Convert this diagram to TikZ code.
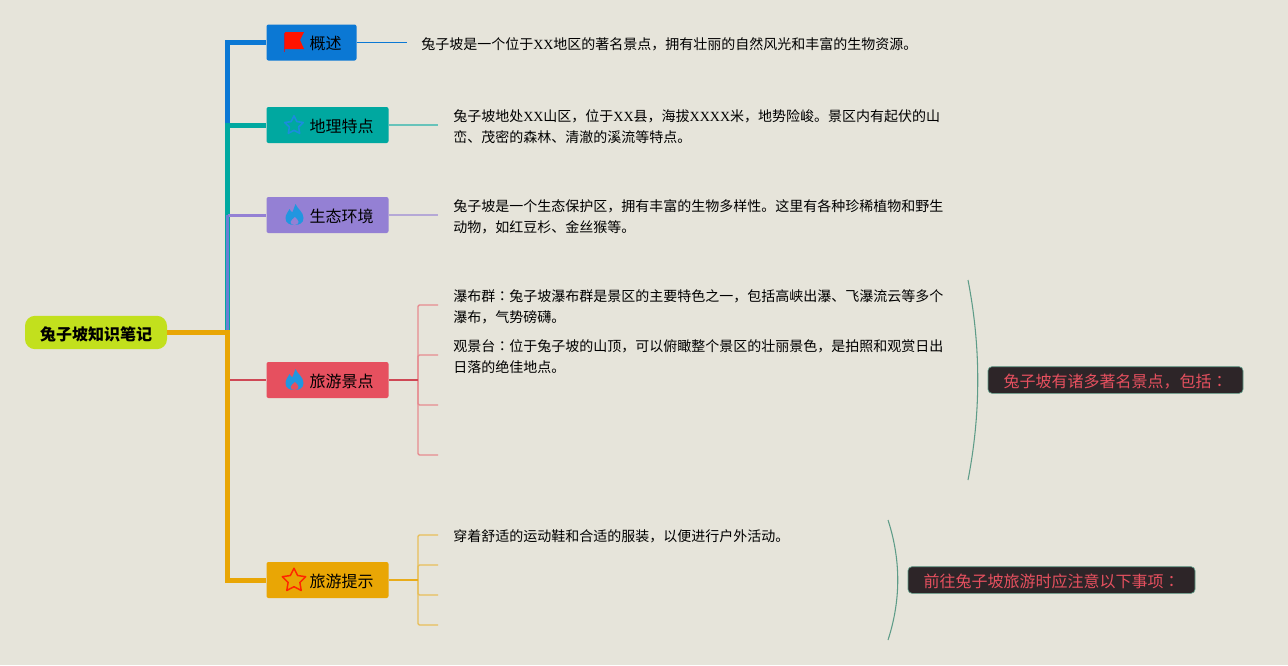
\documentclass[tikz,border=0pt]{standalone}
\usepackage{fontspec}
\setmainfont{Liberation Serif}
\newfontfamily\cjk{Noto Sans CJK SC}
\newfontfamily\cjkmid{Noto Sans CJK TC}
\usetikzlibrary{positioning}
\usetikzlibrary{shapes.geometric}

\definecolor{paper}{HTML}{E6E4DA}
\definecolor{rootgreen}{HTML}{C2E01D}
\definecolor{bluebr}{HTML}{0B78D4}
\definecolor{tealbr}{HTML}{00A8A0}
\definecolor{purplebr}{HTML}{9480D4}
\definecolor{redbr}{HTML}{E6505F}
\definecolor{orangebr}{HTML}{E9A605}
\definecolor{notebg}{HTML}{2D2528}
\definecolor{noteline}{HTML}{5E9C88}
\definecolor{flameblue}{HTML}{2196E0}

\tikzset{
rootbox/.style={fill=rootgreen,rounded corners=7.5pt,minimum width=106.5pt,minimum height=25pt,inner sep=0pt,text height=14pt,text depth=2pt,font=\cjk\bfseries\fontsize{12}{14}\selectfont},
topbox/.style={fill=#1,rounded corners=1.5pt,minimum height=27pt,inner sep=0pt,align=left,text height=14pt,text depth=3.5pt,font=\cjk\fontsize{12}{14}\selectfont},
bodytext/.style={anchor=west,inner sep=0pt,align=left,font=\cjk\fontsize{10.5}{15.75}\selectfont},
notebox/.style={fill=notebg,draw=noteline,line width=0.5pt,rounded corners=3pt,minimum height=20pt,inner sep=0pt,text height=13pt,text depth=2.5pt,text=redbr,font=\cjk\fontsize{12}{14}\selectfont},
trunk/.style={draw=#1,line width=3.75pt},
leafline/.style={draw=#1,line width=1pt},
noteline/.style={draw=noteline,line width=0.8pt},
flagicon/.pic={
\fill[red!85!orange] (-9,-10) -- (10,-10) -- (6,-2) -- (10,7) -- (-9,7) -- cycle;
\draw[red!70!bluebr,line width=0.6pt] (-9.5,-9) -- (-9.5,10);
},
flameicon/.pic={
\fill[flameblue] (1,-11) .. controls (3,-6) and (9,-3) .. (9,3) .. controls (9,8) and (5,10) .. (0,10) .. controls (-5,10) and (-9,8) .. (-9,3) .. controls (-9,-1) and (-6,-3) .. (-5,-6) .. controls (-4,-4) and (-3,-3) .. (-2,-3) .. controls (-1,-6) and (0,-8) .. (1,-11) -- cycle;
\fill[#1] (0.5,2) .. controls (2,4) and (4,5) .. (4,7) .. controls (4,9) and (2,10) .. (0,10) .. controls (-2,10) and (-4,9) .. (-4,7) .. controls (-4,5) and (-1,4) .. (0.5,2) -- cycle;
},
}
\newcommand{\xx}[1]{{\rmfamily #1}}
\newcommand{\midcolon}{{\cjkmid ：}}

\begin{document}
\begin{tikzpicture}[x=0.75pt,y=-0.75pt]
\useasboundingbox (0,0) rectangle (1288,665);
\fill[paper] (0,0) rectangle (1288,665);

\node[rootbox] (root) at (96,332.5) {兔子坡知识笔记};
\node[topbox=bluebr,text width=67.5pt] (overview) at (311.5,42.5) {\hspace*{32.25pt}概述};
\node[topbox=tealbr,text width=91.5pt] (geo) at (327.5,125) {\hspace*{32.25pt}地理特点};
\node[topbox=purplebr,text width=91.5pt] (eco) at (327.5,215) {\hspace*{32.25pt}生态环境};
\node[topbox=redbr,text width=91.5pt] (spots) at (327.5,380) {\hspace*{32.25pt}旅游景点};
\node[topbox=orangebr,text width=91.5pt] (tips) at (327.5,580) {\hspace*{32.25pt}旅游提示};

\coordinate (trunktop) at (227.5,42.5);
\coordinate (geojoin) at (227.5,125);
\coordinate (ecojoin) at (227.5,215);
\coordinate (rootjoin) at (227.5,332.5);
\coordinate (spotsjoin) at (230,380);

% trunk
\draw[trunk=bluebr] (overview.west) -- (trunktop) -- (geojoin);
\draw[trunk=tealbr] (geo.west) -- (geojoin) -- (rootjoin);
\draw[purplebr,line width=2.25pt] (eco.west) -- (ecojoin);
\draw[purplebr!70!bluebr,line width=2.25pt] (ecojoin) -- (rootjoin);
\draw[trunk=orangebr] (root.east) -- (rootjoin) |- (tips.west);
\draw[redbr!90!black,line width=1.9pt] (spotsjoin) -- (spots.west);

% icons
\pic at (294,42) {flagicon};
\node[star,star points=5,star point ratio=2,draw=flameblue!70!bluebr,line width=1.2pt,minimum size=14.5pt,inner sep=0pt,line join=round] (geostar) at (294,125.5) {};
\pic at (294.5,215) {flameicon=purplebr};
\pic at (294.5,380) {flameicon=redbr};
\node[star,star points=5,star point ratio=2,draw=red!70!orange,line width=1.1pt,minimum size=18.5pt,inner sep=0pt,line join=round] (tipstar) at (294,580.5) {};

% body text
\node[bodytext] (overviewtext) at (421,44.5) {兔子坡是一个位于\xx{XX}地区的著名景点，拥有壮丽的自然风光和丰富的生物资源。};
\node[bodytext] (geotext) at (453,127) {兔子坡地处\xx{XX}山区，位于\xx{XX}县，海拔\xx{XXXX}米，地势险峻。景区内有起伏的山\\峦、茂密的森林、清澈的溪流等特点。};
\node[bodytext] (ecotext) at (453,217) {兔子坡是一个生态保护区，拥有丰富的生物多样性。这里有各种珍稀植物和野生\\动物，如红豆杉、金丝猴等。};
\node[bodytext] (falltext) at (453,306.5) {瀑布群\midcolon{}兔子坡瀑布群是景区的主要特色之一，包括高峡出瀑、飞瀑流云等多个\\瀑布，气势磅礴。};
\node[bodytext] (viewtext) at (453,356.5) {观景台\midcolon{}位于兔子坡的山顶，可以俯瞰整个景区的壮丽景色，是拍照和观赏日出\\日落的绝佳地点。};
\node[bodytext] (shoetext) at (453,536.5) {穿着舒适的运动鞋和合适的服装，以便进行户外活动。};

% leaf lines
\coordinate (overviewend) at (407,42.5);
\coordinate (geoend) at (438,125);
\coordinate (ecoend) at (438,215);
\draw[leafline=bluebr,line width=0.75pt] (overview.east) -- (overviewend);
\draw[leafline=tealbr!55!paper] (geo.east) -- (geoend);
\draw[leafline=purplebr!60!paper] (eco.east) -- (ecoend);

\coordinate (spotsfork) at (418,380);
\coordinate (spotsa) at (438,305);
\coordinate (spotsb) at (438,355);
\coordinate (spotsc) at (438,405);
\coordinate (spotsd) at (438,455);
\foreach \leaf in {spotsa,spotsb,spotsc,spotsd}
{
\draw[leafline=redbr!60!paper,rounded corners=1pt] (spotsfork) |- (\leaf);
}
\draw[redbr!90!black,line width=1.5pt] (spots.east) -- (spotsfork);

\coordinate (tipsfork) at (418,580);
\coordinate (tipsa) at (438,535);
\coordinate (tipsb) at (438,565);
\coordinate (tipsc) at (438,595);
\coordinate (tipsd) at (438,625);
\foreach \leaf in {tipsa,tipsb,tipsc,tipsd}
{
\draw[leafline=orangebr!60!paper,rounded corners=1pt] (tipsfork) |- (\leaf);
}
\draw[orangebr!90!paper,line width=1.5pt] (tips.east) -- (tipsfork);

% summaries
\node[notebox,minimum width=191.25pt] (spotsnote) at (1115.5,380) {兔子坡有诸多著名景点，包括\midcolon};
\node[notebox,minimum width=215.25pt] (tipsnote) at (1051.5,580) {前往兔子坡旅游时应注意以下事项\midcolon};
\coordinate (spotsup) at (968,280);
\coordinate (spotslow) at (968,480);
\coordinate (tipsup) at (888,520);
\coordinate (tipslow) at (888,640);
\draw[noteline] (spotsup) .. controls (981,347) and (981,413) .. (spotslow);
\draw[noteline] (tipsup) .. controls (901,560) and (901,600) .. (tipslow);
\end{tikzpicture}
\end{document}
